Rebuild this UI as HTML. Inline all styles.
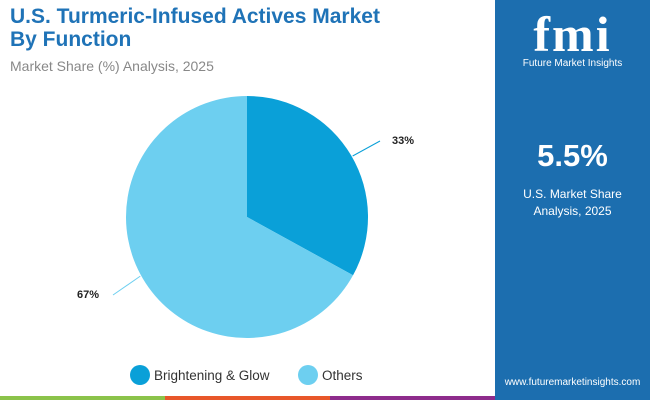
<!DOCTYPE html>
<html><head><meta charset="utf-8"><style>
body{margin:0;width:650px;height:400px;overflow:hidden;background:#fff;font-family:"Liberation Sans",sans-serif;position:relative}
.t{position:absolute;left:10px;font-weight:bold;color:#1f73b7;font-size:21px;line-height:23px}
</style></head><body>
<div class="t" style="top:5px">U.S. Turmeric-Infused Actives Market<br>By Function</div>
<div style="position:absolute;left:10px;top:58px;font-size:14px;color:#888">Market Share (%) Analysis, 2025</div>
<div style="position:absolute;left:495px;top:0;width:155px;height:400px;background:#1c6eaf">
 <div style="position:absolute;top:8px;width:155px;text-align:center;color:#fff;font-weight:bold;font-size:50px;letter-spacing:2px;font-family:'Liberation Serif',serif;line-height:52px">fmi</div>
 <div style="position:absolute;top:58px;width:155px;text-align:center;color:#fff;font-size:10px">Future Market Insights</div>
 <div style="position:absolute;top:138px;width:155px;text-align:center;color:#fff;font-weight:bold;font-size:31px">5.5%</div>
 <div style="position:absolute;top:186px;width:155px;text-align:center;color:#fff;font-size:12px;line-height:17px">U.S. Market Share<br>Analysis, 2025</div>
 <div style="position:absolute;top:377px;width:155px;text-align:center;color:#fff;font-size:10px">www.futuremarketinsights.com</div>
</div>
<svg id="pie" width="495" height="396" style="position:absolute;left:0;top:0"></svg>
<div style="position:absolute;left:0;top:396px;width:165px;height:4px;background:#8bc34a"></div>
<div style="position:absolute;left:165px;top:396px;width:165px;height:4px;background:#e8572a"></div>
<div style="position:absolute;left:330px;top:396px;width:165px;height:4px;background:#8e2c8c"></div>
<script>
const categories=["Brightening & Glow","Others"];
const values=[33,67];
const colors=["#0aa0d8","#6dcff0"];
const svg=document.getElementById('pie');const NS="http://www.w3.org/2000/svg";
const cx=247,cy=217,r=121;
const total=values.reduce((a,b)=>a+b,0);
let a0=-Math.PI/2;
const labelPos=[[380,141,403,144],[113,295,88,298]];
const anchorDeg=[-30,151];
values.forEach((v,i)=>{
 const a1=a0+v/total*2*Math.PI;
 const p=document.createElementNS(NS,'path');
 const x0=cx+r*Math.cos(a0),y0=cy+r*Math.sin(a0),x1=cx+r*Math.cos(a1),y1=cy+r*Math.sin(a1);
 p.setAttribute('d',`M${cx},${cy}L${x0},${y0}A${r},${r} 0 ${a1-a0>Math.PI?1:0} 1 ${x1},${y1}Z`);
 p.setAttribute('fill',colors[i]);
 
 
 svg.appendChild(p);
 const lp=labelPos[i];
 const ang=anchorDeg[i]*Math.PI/180;
 const ln=document.createElementNS(NS,'line');
 ln.setAttribute('x1',cx+(r+1)*Math.cos(ang));ln.setAttribute('y1',cy+(r+1)*Math.sin(ang));ln.setAttribute('x2',lp[0]);ln.setAttribute('y2',lp[1]);
 ln.setAttribute('stroke',colors[i]);ln.setAttribute('stroke-width','1');
 
 
 svg.appendChild(ln);
 const t=document.createElementNS(NS,'text');
 t.setAttribute('x',lp[2]);t.setAttribute('y',lp[3]);t.setAttribute('text-anchor','middle');
 t.setAttribute('font-size','11');t.setAttribute('font-weight','bold');t.setAttribute('fill','#222');
 t.textContent=v+'%';
 
 
 svg.appendChild(t);
 a0=a1;
});
const lx=[140,308];
categories.forEach((c,i)=>{
 const ci=document.createElementNS(NS,'circle');
 ci.setAttribute('cx',lx[i]);ci.setAttribute('cy',375);ci.setAttribute('r',10);ci.setAttribute('fill',colors[i]);
 
 
 svg.appendChild(ci);
 const t=document.createElementNS(NS,'text');
 t.setAttribute('x',lx[i]+14);t.setAttribute('y',380);t.setAttribute('font-size','13.5');t.setAttribute('fill','#333');
 t.textContent=c;
 
 
 svg.appendChild(t);
});
</script>
</body></html>
